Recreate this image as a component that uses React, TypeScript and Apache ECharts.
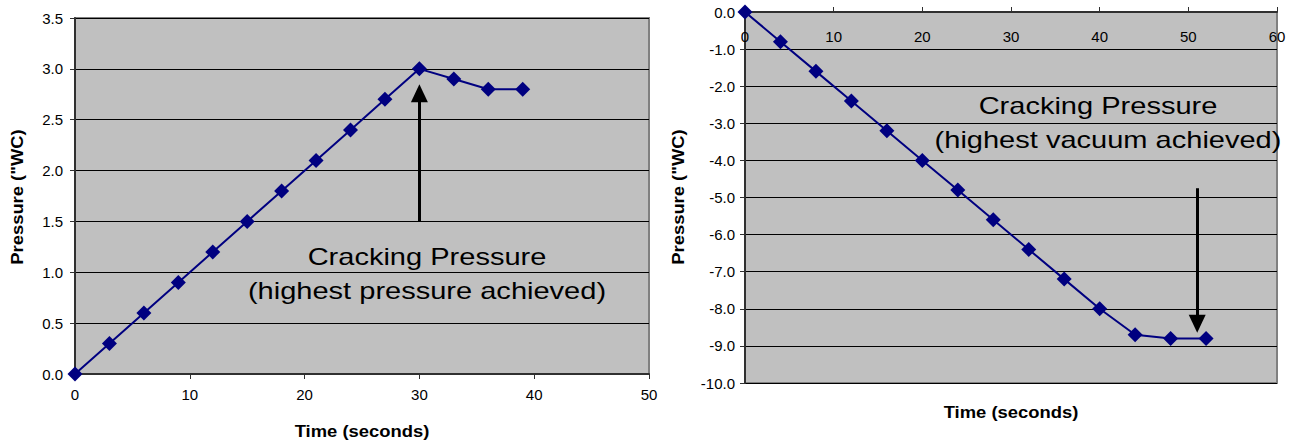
import React, { useEffect, useRef } from "react";
import * as echarts from "echarts";

const leftTime = [0, 3, 6, 9, 12, 15, 18, 21, 24, 27, 30, 33, 36, 39];
const leftPressure = [0, 0.3, 0.6, 0.9, 1.2, 1.5, 1.8, 2.1, 2.4, 2.7, 3.0, 2.9, 2.8, 2.8];
const rightTime = [0, 4, 8, 12, 16, 20, 24, 28, 32, 36, 40, 44, 48, 52];
const rightPressure = [0, -0.8, -1.6, -2.4, -3.2, -4.0, -4.8, -5.6, -6.4, -7.2, -8.0, -8.7, -8.8, -8.8];
const leftArrow = [[30, 1.5], [30, 2.76]];
const rightArrow = [[51, -4.75], [51, -8.4]];
const xTitle = "Time (seconds)";
const yTitle = 'Pressure ("WC)';
const leftNote = ["Cracking Pressure", "(highest pressure achieved)"];
const rightNote = ["Cracking Pressure", "(highest vacuum achieved)"];

const FONT = "'Liberation Sans', Arial, sans-serif";

export default function App() {
  const ref = useRef<HTMLDivElement>(null);
  useEffect(() => {
    document.body.style.margin = "0";
    const chart = echarts.init(ref.current!, null, { renderer: "svg" });
    const fmt = (v: number) => v.toFixed(1);
    const axisLineDark = { show: true, lineStyle: { color: "#303030", width: 2 } };
    const tick = { show: true, length: 5, lineStyle: { color: "#303030", width: 1 } };
    const label = { color: "#000", fontSize: 15, fontFamily: FONT };
    const split = { show: true, lineStyle: { color: "#000", width: 1 } };
    const seriesBase = {
      type: "line" as const,
      symbol: "diamond",
      symbolSize: 15,
      lineStyle: { color: "#000080", width: 2 },
      itemStyle: { color: "#000080" },
      silent: true,
    };
    const arrowLine = (pts: number[][]) => ({
      silent: true,
      symbol: ["none", "triangle"],
      symbolSize: [17, 18],
      label: { show: false },
      lineStyle: { color: "#000", width: 3, type: "solid" as const },
      emphasis: { disabled: true },
      data: [[{ coord: pts[0] }, { coord: pts[1] }]],
    });
    const note = (text: string, x: number, y: number) => ({
      type: "text", x, y, scaleX: 1.21,
      style: { text, font: `24px ${FONT}`, fill: "#000", textAlign: "center", textVerticalAlign: "middle" },
    });
    const title = (text: string, x: number, y: number, rotate: boolean) => ({
      type: "text", x, y, scaleX: 1.15, rotation: rotate ? Math.PI / 2 : 0,
      style: { text, font: `bold 16px ${FONT}`, fill: "#000", textAlign: "center", textVerticalAlign: "middle" },
    });
    chart.setOption({
      animation: false,
      grid: [
        { left: 75, top: 18, width: 574, height: 356, show: true, backgroundColor: "#C0C0C0", borderColor: "#808080", borderWidth: 2 },
        { left: 745, top: 12, width: 532, height: 371, show: true, backgroundColor: "#C0C0C0", borderColor: "#808080", borderWidth: 2 },
      ],
      xAxis: [
        {
          gridIndex: 0, type: "value", min: 0, max: 50, interval: 10,
          axisLine: axisLineDark, axisTick: tick, splitLine: { show: false },
          axisLabel: { ...label, margin: 13 },
        },
        {
          gridIndex: 1, type: "value", min: 0, max: 60, interval: 10, position: "top",
          axisLine: { ...axisLineDark, onZero: false }, axisTick: { ...tick, inside: false }, splitLine: { show: false },
          axisLabel: { ...label, inside: true, margin: 17 },
        },
      ],
      yAxis: [
        {
          gridIndex: 0, type: "value", min: 0, max: 3.5, interval: 0.5,
          axisLine: axisLineDark, axisTick: tick, splitLine: split,
          axisLabel: { ...label, margin: 12, formatter: fmt },
        },
        {
          gridIndex: 1, type: "value", min: -10, max: 0, interval: 1,
          axisLine: axisLineDark, axisTick: tick, splitLine: split,
          axisLabel: { ...label, margin: 10, formatter: fmt },
        },
      ],
      series: [
        {
          ...seriesBase, xAxisIndex: 0, yAxisIndex: 0,
          data: leftTime.map((t, i) => [t, leftPressure[i]]),
          markLine: arrowLine(leftArrow),
        },
        {
          ...seriesBase, xAxisIndex: 1, yAxisIndex: 1,
          data: rightTime.map((t, i) => [t, rightPressure[i]]),
          markLine: arrowLine(rightArrow),
        },
      ],
      graphic: [
        note(leftNote[0], 427, 257),
        note(leftNote[1], 427, 291),
        note(rightNote[0], 1098, 106),
        note(rightNote[1], 1108, 140),
        title(xTitle, 362, 431, false),
        title(xTitle, 1011, 412, false),
        title(yTitle, 17, 197, true),
        title(yTitle, 678, 197, true),
      ],
    });
    return () => chart.dispose();
  }, []);
  return <div ref={ref} style={{ width: 1294, height: 440 }} />;
}
